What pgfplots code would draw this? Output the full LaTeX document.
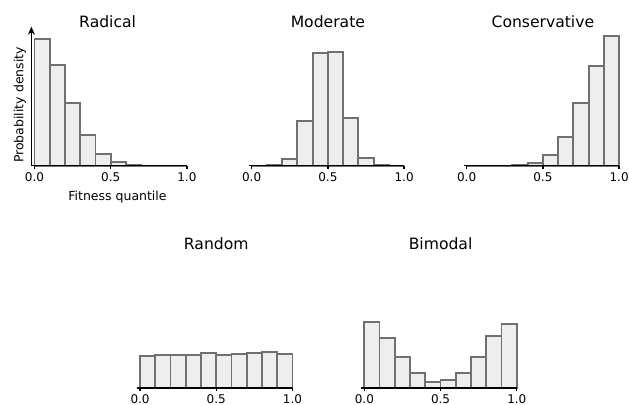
\documentclass[border=0pt]{standalone}
\usepackage{fontspec}
\setmainfont{DejaVu Sans}
\usepackage{pgfplots}
\pgfplotsset{compat=1.18}
\usetikzlibrary{arrows.meta}
\definecolor{barfill}{RGB}{238,238,238}
\definecolor{baredge}{RGB}{112,112,112}
\newcommand{\tickfont}{\fontsize{12bp}{14bp}\selectfont}
\newcommand{\labfont}{\fontsize{12.5bp}{14bp}\selectfont}
\newcommand{\titfont}{\fontsize{15.6bp}{18bp}\selectfont}
\pgfplotsset{
  hist/.style={
    scale only axis, width=155.5bp, height=139bp,
    xmin=-0.02, xmax=1.0, ymin=0, ymax=139,
    axis x line*=bottom,
    x axis line style={line width=1.6bp, black},
    xtick={0,0.5,1}, xticklabels={0.0,0.5,1.0},
    ytick=\empty,
    xtick align=outside, major tick length=3.5bp,
    major tick style={line width=1.3bp, black},
    xticklabel style={font=\tickfont, inner sep=0pt, anchor=north, yshift=-2.8bp},
    anchor=south west, clip=false, axis on top,
  },
  bars/.style={ybar interval, fill=barfill, draw=baredge, line width=1.8bp},
}
\begin{document}
\begin{tikzpicture}
\path[use as bounding box] (0,0) rectangle (629bp,405bp);
% Radical
\begin{axis}[hist, at={(31.4bp,239.3bp)},
  axis y line*=left,
  y axis line style={line width=1.6bp, black, -{Stealth[length=8bp,width=7bp]}}]
\addplot[bars] coordinates {(0,127) (0.1,101) (0.2,62.3) (0.3,30.3) (0.4,11.7) (0.5,3.3) (0.6,0.5) (0.7,0.2) (0.8,0) (0.9,0) (1.0,0)};
\node[anchor=base, font=\titfont] at (axis cs:0.48,138) {Radical};
\end{axis}
\node[anchor=base, font=\labfont] at (117.5bp,204.3bp) {Fitness quantile};
\node[anchor=base, rotate=90, font=\labfont] at (23.3bp,300bp) {Probability density};
% Moderate
\begin{axis}[hist, axis y line=none, at={(248.6bp,239.3bp)}]
\addplot[bars] coordinates {(0,0) (0.1,0.5) (0.2,7) (0.3,45) (0.4,113) (0.5,114) (0.6,48) (0.7,8) (0.8,0.3) (0.9,0) (1.0,0)};
\node[anchor=base, font=\titfont] at (axis cs:0.5,138) {Moderate};
\end{axis}
% Conservative
\begin{axis}[hist, axis y line=none, at={(463.6bp,239.3bp)}]
\addplot[bars] coordinates {(0,0) (0.1,0) (0.2,0.2) (0.3,0.5) (0.4,3) (0.5,11) (0.6,29) (0.7,63) (0.8,100) (0.9,130) (1.0,130)};
\node[anchor=base, font=\titfont] at (axis cs:0.5,138) {Conservative};
\end{axis}
% Random
\begin{axis}[hist, axis y line=none, at={(137bp,17.3bp)}]
\addplot[bars] coordinates {(0,32) (0.1,33) (0.2,32.3) (0.3,32.3) (0.4,35) (0.5,33) (0.6,33.7) (0.7,34.3) (0.8,35.3) (0.9,33.3) (1.0,33.3)};
\node[anchor=base, font=\titfont] at (axis cs:0.5,138) {Random};
\end{axis}
% Bimodal
\begin{axis}[hist, axis y line=none, at={(361.3bp,17.3bp)}]
\addplot[bars] coordinates {(0,65.7) (0.1,50) (0.2,30.3) (0.3,15) (0.4,5.7) (0.5,7.3) (0.6,14.3) (0.7,30.3) (0.8,51.7) (0.9,64) (1.0,64)};
\node[anchor=base, font=\titfont] at (axis cs:0.5,138) {Bimodal};
\end{axis}
\end{tikzpicture}
\end{document}
